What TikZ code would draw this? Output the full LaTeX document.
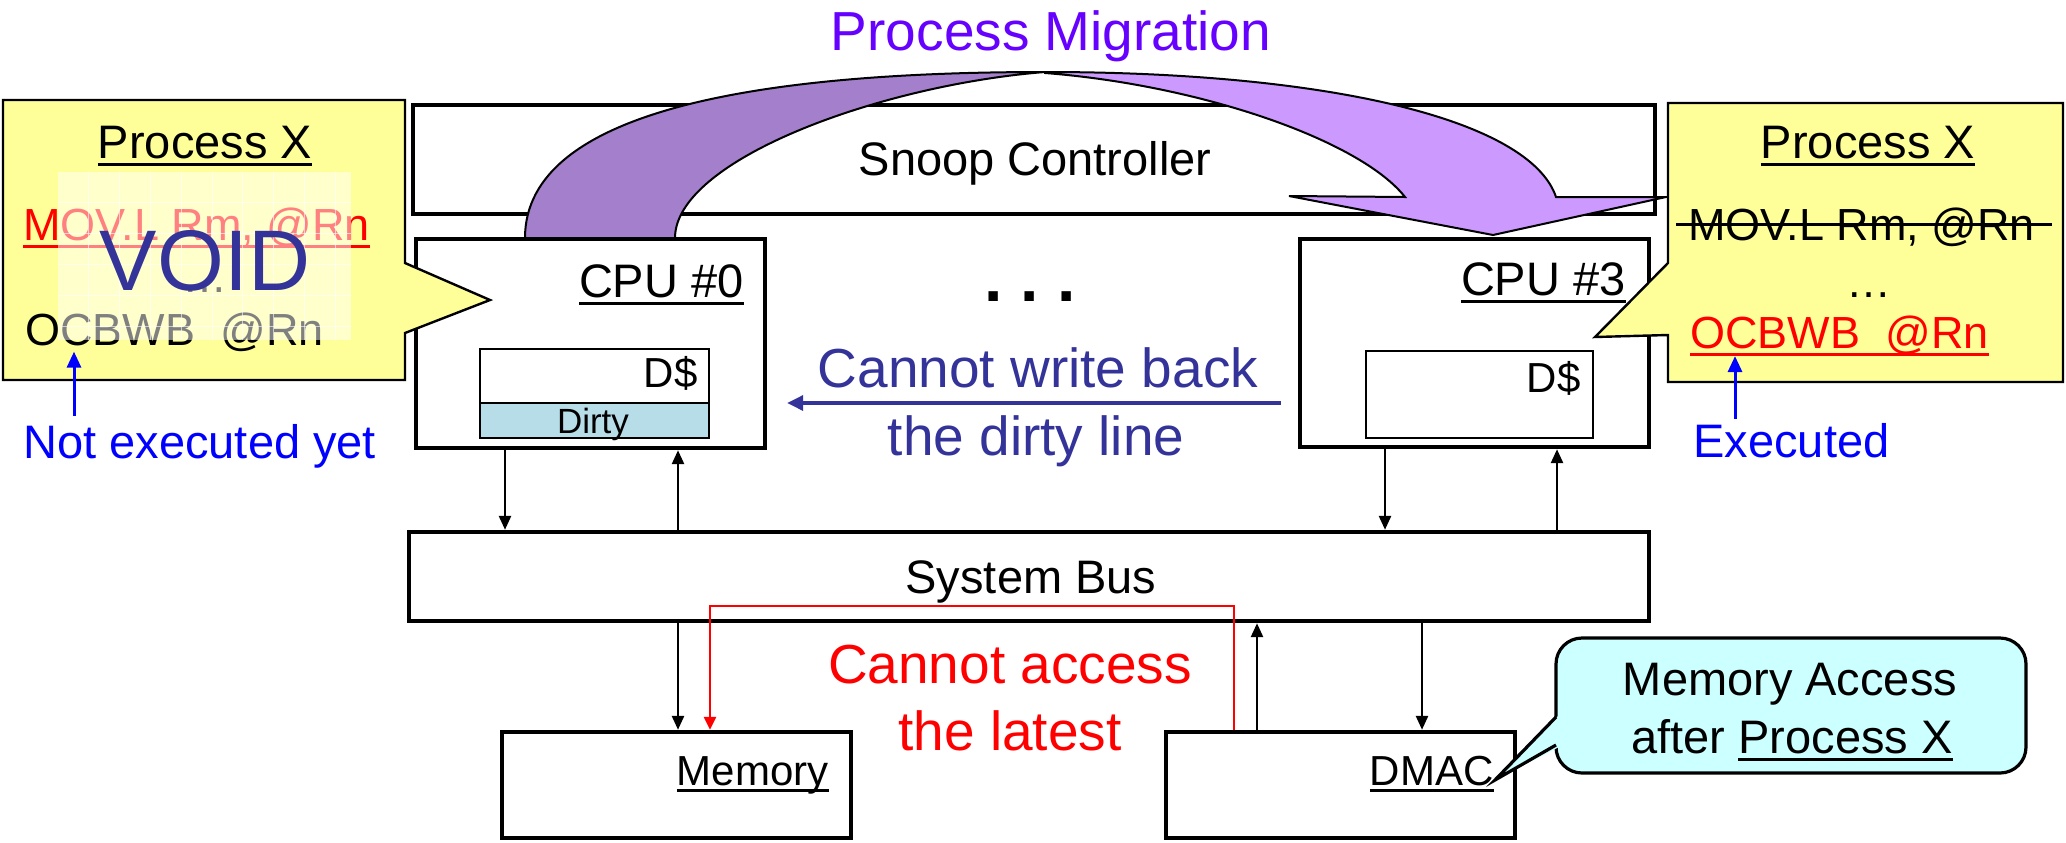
\documentclass[tikz,border=0pt]{standalone}
\usepackage{fontspec}
\setmainfont{Liberation Sans}
\usetikzlibrary{arrows.meta,fit}
\definecolor{yel}{HTML}{FFFF99}
\definecolor{cya}{HTML}{CCFFFF}
\definecolor{dirtyc}{HTML}{B7DEE8}
\definecolor{dblue}{HTML}{333399}
\definecolor{migc}{HTML}{6600FF}
\definecolor{pdark}{HTML}{A47FCC}
\definecolor{plight}{HTML}{CC99FF}
\newcommand\fs[1]{\fontsize{#1}{#1}\selectfont}
\newcommand\myul[1]{\setbox0\hbox{#1}\rlap{\rule[-0.17em]{\wd0}{0.065em}}\box0}
\begin{document}
\begin{tikzpicture}[x=0.5pt,y=-0.5pt,
  bigbox/.style={draw, line width=2.2pt, inner sep=0pt, fill=white},
  thinbox/.style={draw, line width=1pt, inner sep=0pt},
  txt/.style={inner sep=0pt, font=\fs{23.5pt}},
  ctxt/.style={inner sep=0pt, font=\fs{22.5pt}},
  dtxt/.style={inner sep=0pt, font=\fs{21pt}},
  bigtxt/.style={inner sep=0pt, font=\fs{27.5pt}},
  callout/.style={draw, line width=1.2pt, fill=yel},
  arr/.style={line width=1.3pt, -{Triangle[length=7pt,width=6pt]}},
  redarr/.style={draw=red, line width=1.4pt, -{Triangle[length=6.5pt,width=6pt]}},
  bluearr/.style={draw=blue, line width=1.5pt, -{Triangle[length=8pt,width=7pt]}},
  darr/.style={draw=dblue, line width=1.7pt, -{Triangle[length=8pt,width=7.5pt]}},
  purp/.style={draw, line width=1pt}]
\useasboundingbox (0,0) rectangle (2066,842);
\fill[white] (0,0) rectangle (2066,842);

% boxes
\node[bigbox, fit={(413,105)(1655,214)}] (snoop) {};
\node[bigbox, fit={(416,239)(765,448)}] (cpu0) {};
\node[bigbox, fit={(1300,239)(1649,447)}] (cpu3) {};
\node[bigbox, fit={(409,532)(1649,621)}] (bus) {};
\node[bigbox, fit={(502,732)(851,838)}] (mem) {};
\node[bigbox, fit={(1166,732)(1515,838)}] (dmac) {};
\node[thinbox, fill=white, fit={(480,349)(709,403)}] (dc0) {};
\node[thinbox, fill=dirtyc, fit={(480,403)(709,438)}] (dirty) {};
\node[thinbox, fill=white, fit={(1366,351)(1593,438)}] (dc3) {};

% box texts
\node[txt, anchor=base] (snoopt) at (1035,175) {Snoop Controller};
\node[txt, anchor=base east] (cpu0t) at (744,297) {\myul{CPU \#0}};
\node[txt, anchor=base east] (cpu3t) at (1626,295) {\myul{CPU \#3}};
\node[dtxt, anchor=base east] (dc0t) at (698,387) {D\$};
\node[dtxt, anchor=base east] (dc3t) at (1581,392) {D\$};
\node[inner sep=0pt, font=\fs{17.5pt}, anchor=base] (dirtyt) at (593,433) {Dirty};
\node[txt, anchor=base] (bust) at (1031,593) {System Bus};
\node[dtxt, anchor=base east] (memt) at (829,785) {\myul{Memory}};
\node[dtxt, anchor=base east] (dmact) at (1494,785) {\myul{DMAC}};
\node[inner sep=0pt, font=\fs{33pt}\bfseries, anchor=base] (dots) at (1030,301) {.\ .\ .};

% big texts
\node[bigtxt, text=migc, anchor=base] (mig) at (1051,50) {Process Migration};
\node[bigtxt, text=dblue, anchor=base] (cw1) at (1038,387) {Cannot write back};
\node[bigtxt, text=dblue, anchor=base] (cw2) at (1036,455) {the dirty line};
\node[bigtxt, text=red, anchor=base] (ca1) at (1010,683) {Cannot access};
\node[bigtxt, text=red, anchor=base] (ca2) at (1010,750) {the latest};

% purple migration arrow
\draw[purp, fill=plight] (1045,72) .. controls (1330,72) and (1530,120) .. (1556,197)
  -- (1666,197) -- (1493,235) -- (1289,196) -- (1405,197)
  .. controls (1360,140) and (1200,85) .. (1045,73) -- cycle;
\draw[purp, fill=pdark] (525,238) .. controls (525,110) and (760,72) .. (1045,72)
  .. controls (880,85) and (675,160) .. (675,238) -- cycle;

% bus connectors
\draw[arr] (cpu0.south -| 505,0) -- (bus.north -| 505,0);
\draw[arr] (bus.north -| 678,0) -- (cpu0.south -| 678,0);
\draw[arr] (cpu3.south -| 1385,0) -- (bus.north -| 1385,0);
\draw[arr] (bus.north -| 1557,0) -- (cpu3.south -| 1557,0);
\draw[arr] (bus.south -| 678,0) -- (mem.north -| 678,0);
\draw[arr] (dmac.north -| 1257,0) -- (bus.south -| 1257,0);
\draw[arr] (bus.south -| 1422,0) -- (dmac.north -| 1422,0);
\draw[redarr] (dmac.north -| 1234,0) |- (710,606) -- (mem.north -| 710,0);
\draw[darr, shorten <=8.5pt, shorten >=10pt] (cpu3.west |- 0,403) -- (cpu0.east |- 0,403);

% left callout
\draw[callout] (3,100) -- (405,100) -- (405,263) -- (490,300) -- (405,333) -- (405,380) -- (3,380) -- cycle;
\node[txt, anchor=base] (pxL) at (205,158) {\myul{Process X}};
\node[ctxt, anchor=base west, text=red] (movL) at (23,240) {\myul{MOV.L Rm, @Rn}};
\node[ctxt, anchor=base] (elL) at (205,292) {…};
\node[ctxt, anchor=base west] (ocL) at (25,345) {OCBWB\ \ @Rn};
\fill[white, opacity=0.5] (58,172) rectangle (351,340);
\foreach \gx in {1,...,9} \draw[white, opacity=0.6, line width=0.4pt] ({58+30.8*\gx},172) -- ({58+30.8*\gx},340);
\foreach \gy in {1,...,5} \draw[white, opacity=0.6, line width=0.4pt] (58,{172+30.8*\gy}) -- (351,{172+30.8*\gy});
\node[inner sep=0pt, font=\fs{43pt}, text=dblue, anchor=base] (void) at (205,290) {VOID};
\node[txt, anchor=base west, text=blue] (notexec) at (23,458) {Not executed yet};
\draw[bluearr, shorten <=4pt] (notexec.north -| 74,0) -- (ocL.south -| 74,0);

% right callout
\draw[callout] (1668,103) -- (2063,103) -- (2063,382) -- (1668,382) -- (1668,335) -- (1595,337) -- (1668,263) -- cycle;
\node[txt, anchor=base] (pxR) at (1868,158) {\myul{Process X}};
\node[ctxt, anchor=base west] (movR) at (1688,240) {MOV.L Rm, @Rn};
\draw[line width=1.5pt] ([xshift=-6pt,yshift=8pt]movR.base west) -- ([xshift=8.5pt,yshift=8pt]movR.base east);
\node[ctxt, anchor=base] (elR) at (1869,297) {…};
\node[ctxt, anchor=base west, text=red] (ocR) at (1690,348) {\myul{OCBWB\ \ @Rn}};
\node[txt, anchor=base west, text=blue] (exe) at (1693,457) {Executed};
\draw[bluearr, shorten <=2pt] (exe.north -| 1735,0) -- (ocR.south -| 1735,0);

% cyan callout
\draw[line width=1.6pt, fill=cya, rounded corners=13pt] (1556,638) rectangle (2026,773);
\fill[cya] (1559,715) -- (1495,780) -- (1559,747) -- cycle;
\draw[line width=1.6pt] (1556,717) -- (1495,780) -- (1556,745);
\node[txt, anchor=base] (ma1) at (1790,695) {Memory Access};
\node[txt, anchor=base] (ma2) at (1792,753) {after \myul{Process X}};
\end{tikzpicture}
\end{document}
